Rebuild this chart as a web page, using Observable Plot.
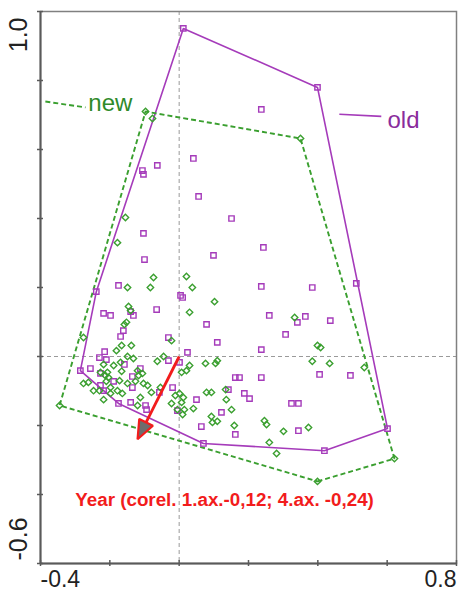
<!DOCTYPE html>
<html>
<head>
<meta charset="utf-8">
<script src="https://cdn.jsdelivr.net/npm/d3@7"></script>
<script src="https://cdn.jsdelivr.net/npm/@observablehq/plot@0.6"></script>
<style>
  body { margin: 0; background: #fff; }
  #chart svg { display: block; }
</style>
</head>
<body>
<div id="chart"></div>
<script>
// Site scores on ordination axes 1 and 4: older relevés (squares)
const oldSites = [
  [0.012, 0.951], [0.399, 0.780], [0.237, 0.716], [-0.106, 0.539], [-0.103, 0.528],
  [-0.063, 0.554], [0.041, 0.574], [0.056, 0.464], [0.151, 0.400], [-0.103, 0.357],
  [0.243, 0.316], [0.099, 0.293], [-0.100, 0.281], [-0.175, 0.206], [-0.239, 0.188],
  [0.237, 0.203], [0.384, 0.200], [0.511, 0.212], [0.004, 0.177], [0.010, 0.171],
  [-0.218, 0.125], [-0.198, 0.119], [-0.065, 0.136], [-0.140, 0.130], [-0.132, 0.119],
  [0.260, 0.119], [0.364, 0.116], [0.341, 0.099], [0.436, 0.104], [0.079, 0.093],
  [-0.161, 0.075], [-0.169, 0.058], [-0.031, 0.055], [0.110, 0.041], [0.307, 0.064],
  [0.237, 0.020], [0.024, 0.012], [-0.215, 0.014], [-0.230, -0.003], [-0.210, -0.009],
  [-0.158, -0.023], [-0.031, -0.012], [0.001, -0.017], [-0.285, -0.041], [-0.256, -0.035],
  [-0.227, -0.049], [-0.135, -0.058], [-0.189, -0.072], [-0.019, -0.090], [0.405, -0.052],
  [0.494, -0.055], [0.162, -0.061], [0.174, -0.061], [0.237, -0.061], [0.142, -0.096],
  [0.188, -0.107], [0.203, -0.122], [0.324, -0.136], [0.344, -0.136], [0.122, -0.162],
  [0.162, -0.226], [0.344, -0.215], [0.601, -0.209], [0.419, -0.273], [0.070, -0.252],
  [-0.175, -0.136], [-0.140, -0.133], [-0.097, -0.142], [-0.094, -0.154], [-0.005, -0.157],
  [0.064, -0.203], [0.050, -0.125], [-0.057, -0.104], [-0.227, -0.084], [-0.135, -0.090],
  [-0.218, -0.099], [-0.112, -0.035]
];

// Site scores: recent relevés (diamonds)
const newSites = [
  [-0.097, 0.710], [-0.077, 0.690], [0.350, 0.632], [-0.155, 0.403], [-0.178, 0.330],
  [-0.074, 0.229], [-0.149, 0.200], [-0.083, 0.200], [0.021, 0.232], [0.038, 0.200],
  [0.102, 0.159], [0.030, 0.128], [-0.146, 0.145], [-0.140, 0.133], [-0.152, 0.099],
  [-0.158, 0.093], [-0.276, 0.055], [-0.166, 0.032], [-0.138, 0.032], [-0.181, 0.017],
  [-0.149, 0.000], [-0.132, -0.006], [-0.045, 0.000], [-0.063, -0.014], [-0.169, -0.017],
  [-0.189, -0.026], [-0.218, -0.023], [0.007, -0.046], [0.030, -0.026], [0.076, -0.020],
  [0.105, -0.020], [0.110, -0.012], [-0.227, -0.046], [-0.207, -0.046], [-0.204, -0.061],
  [-0.166, -0.043], [-0.120, -0.041], [-0.117, -0.055], [-0.106, -0.049], [-0.126, -0.072],
  [-0.276, -0.078], [-0.262, -0.075], [-0.172, -0.070], [-0.149, -0.078], [-0.103, -0.078],
  [-0.091, -0.084], [0.333, 0.113], [0.399, 0.032], [0.408, 0.026], [0.384, -0.014],
  [0.434, -0.020], [0.534, -0.032], [-0.022, 0.046], [0.021, -0.041], [-0.080, -0.104],
  [-0.054, -0.090], [0.001, -0.107], [0.012, -0.119], [0.007, -0.133], [-0.022, -0.136],
  [0.079, -0.104], [0.093, -0.104], [0.134, -0.096], [-0.005, -0.154], [0.041, -0.151],
  [0.136, -0.125], [0.151, -0.154], [0.159, -0.200], [0.246, -0.186], [0.252, -0.197],
  [0.301, -0.217], [0.373, -0.206], [0.260, -0.249], [0.281, -0.281], [0.399, -0.362],
  [0.621, -0.296], [-0.345, -0.142], [-0.247, -0.099], [-0.230, -0.099], [-0.198, -0.090],
  [-0.178, -0.099], [-0.164, -0.107], [-0.112, -0.119], [-0.218, -0.125], [-0.213, -0.055],
  [-0.210, -0.072], [-0.120, -0.142], [0.015, -0.154], [0.010, -0.168], [0.093, -0.174],
  [0.096, -0.191], [0.110, -0.188], [-0.011, -0.113], [-0.198, -0.107]
];

// Passive variable: correlation of Year with axis 1 and axis 4
const yearVector = {name: "Year", x: -0.12, y: -0.24};

const xTicks = [-0.4, -0.2, 0, 0.2, 0.4, 0.6, 0.8];
const yTicks = [-0.6, -0.4, -0.2, 0, 0.2, 0.4, 0.6, 0.8, 1.0];
const xTickLabels = [-0.4, 0.8];
const yTickLabels = [-0.6, 1.0];

// Group names with their leader lines
const groupLabels = [
  {name: "new", x: -0.262, y: 0.733, x1: -0.386, y1: 0.739, x2: -0.270, y2: 0.722},
  {name: "old", x: 0.601, y: 0.685, x1: 0.462, y1: 0.702, x2: 0.583, y2: 0.696}
];
const yearLabelPos = {x: 0.131, y: -0.416};

const purple = "#a53bba";
const purpleText = "#8a2c9c";
const green = "#3a9f2f";
const greenText = "#2f8a2a";
const red = "#f21c1c";
const font = "'Liberation Sans', Arial, sans-serif";

const oldData = oldSites.map(([x, y]) => ({x, y}));
const newData = newSites.map(([x, y]) => ({x, y}));

// Arrow: shaft from the origin, filled triangular head at the tip
const len = Math.hypot(yearVector.x, yearVector.y);
const ux = yearVector.x / len, uy = yearVector.y / len;
const headLen = 0.055, headHalf = 0.022;
const bx = yearVector.x - ux * headLen, by = yearVector.y - uy * headLen;
const head = [
  {x: yearVector.x, y: yearVector.y},
  {x: bx + uy * headHalf, y: by - ux * headHalf},
  {x: bx - uy * headHalf, y: by + ux * headHalf}
];
const fmt = (v) => (v < 0 ? "-" : "") + Math.abs(v).toFixed(2).replace(".", ",");
const yearText = `${yearVector.name} (corel. 1.ax.${fmt(yearVector.x)}; 4.ax. ${fmt(yearVector.y)})`;

const chart = Plot.plot({
  width: 458,
  height: 592,
  marginLeft: 40,
  marginRight: 2,
  marginTop: 11,
  marginBottom: 29,
  style: {fontFamily: font, background: "#fff", overflow: "hidden"},
  x: {domain: [-0.4, 0.8], axis: null},
  y: {domain: [-0.6, 1.0], axis: null},
  marks: [
    // zero lines
    Plot.ruleX([0], {stroke: "#9a9a9a", strokeWidth: 1, strokeDasharray: "4,3"}),
    Plot.ruleY([0], {stroke: "#9a9a9a", strokeWidth: 1, strokeDasharray: "4,3"}),
    // group envelopes
    Plot.hull(oldData, {x: "x", y: "y", stroke: purple, strokeWidth: 1.6}),
    Plot.hull(newData, {x: "x", y: "y", stroke: green, strokeWidth: 1.9, strokeDasharray: "5,3"}),
    // sites
    Plot.dot(oldData, {x: "x", y: "y", symbol: "square", r: 3, stroke: purple, strokeWidth: 1.4, fill: "none"}),
    Plot.dot(newData, {x: "x", y: "y", symbol: "diamond2", r: 2.9, stroke: green, strokeWidth: 1.4, fill: "none"}),
    // Year arrow
    Plot.link([yearVector], {x1: 0, y1: 0, x2: bx, y2: by, stroke: red, strokeWidth: 2.8}),
    Plot.line(head, {x: "x", y: "y", curve: "linear-closed", fill: "#6d6d6d", stroke: red, strokeWidth: 2.2, strokeLinejoin: "miter"}),
    Plot.text([yearVector], {x: yearLabelPos.x, y: yearLabelPos.y, text: () => yearText,
      fill: red, fontSize: 18.8, fontWeight: "bold", textAnchor: "middle", lineAnchor: "middle"}),
    // group labels
    Plot.link(groupLabels.filter(d => d.name === "new"), {x1: "x1", y1: "y1", x2: "x2", y2: "y2", stroke: green, strokeWidth: 1.9, strokeDasharray: "5,3"}),
    Plot.link(groupLabels.filter(d => d.name === "old"), {x1: "x1", y1: "y1", x2: "x2", y2: "y2", stroke: purple, strokeWidth: 1.6}),
    Plot.text(groupLabels, {x: "x", y: "y", text: "name", textAnchor: "start", lineAnchor: "middle", fontSize: 24,
      fill: d => d.name === "new" ? greenText : purpleText}),
    // frame and axes
    Plot.frame({stroke: "#808080", strokeWidth: 1.5}),
    Plot.ruleX([-0.4], {stroke: "#5a5a5a", strokeWidth: 2}),
    Plot.ruleY([-0.6], {stroke: "#5a5a5a", strokeWidth: 2}),
    Plot.ruleX(xTicks, {x: d => d, y1: -0.6, y2: -0.6, insetTop: -3, insetBottom: -3, stroke: "#5a5a5a", strokeWidth: 1.5}),
    Plot.ruleY(yTicks, {y: d => d, x1: -0.4, x2: -0.4, insetLeft: -3, insetRight: -3, stroke: "#5a5a5a", strokeWidth: 1.5}),
    // tick labels at the ends of each axis
    Plot.text(xTickLabels.slice(0, 1), {x: d => d, y: -0.6, text: d => d.toFixed(1), textAnchor: "start", lineAnchor: "top", dy: 7, fontSize: 23, fill: "#222"}),
    Plot.text(xTickLabels.slice(1), {x: d => d, y: -0.6, text: d => d.toFixed(1), textAnchor: "end", lineAnchor: "top", dy: 7, fontSize: 23, fill: "#222"}),
    Plot.text(yTickLabels.slice(0, 1), {x: -0.4, y: d => d, text: d => d.toFixed(1), rotate: -90, textAnchor: "start", lineAnchor: "middle", dx: -22, dy: -3, fontSize: 25, fill: "#222"}),
    Plot.text(yTickLabels.slice(1), {x: -0.4, y: d => d, text: d => d.toFixed(1), rotate: -90, textAnchor: "end", lineAnchor: "middle", dx: -22, dy: 6, fontSize: 25, fill: "#222"})
  ]
});
document.getElementById("chart").appendChild(chart);
</script>
</body>
</html>
